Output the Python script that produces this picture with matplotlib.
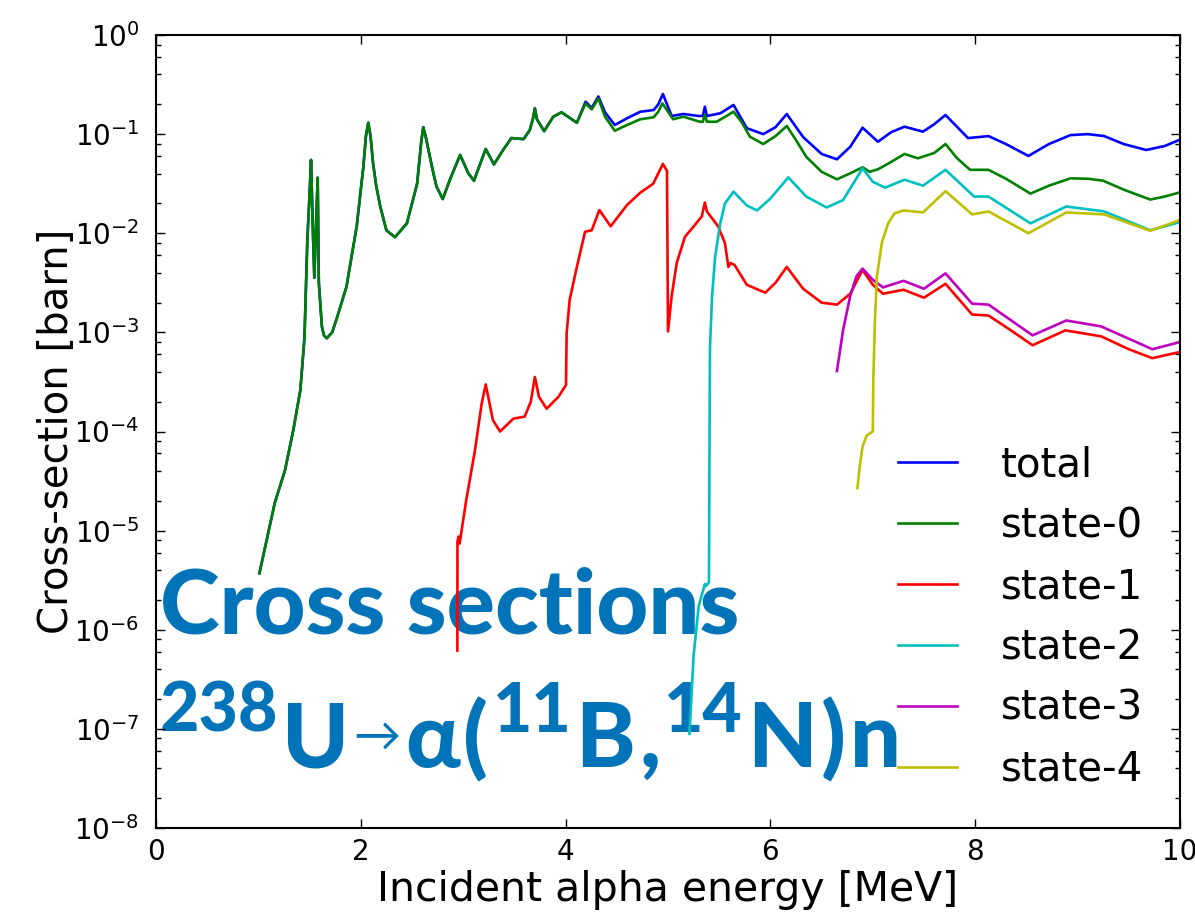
import numpy as np
import matplotlib
matplotlib.use('Agg')
import matplotlib.pyplot as plt
from matplotlib.transforms import IdentityTransform
from matplotlib.ticker import LogLocator, MultipleLocator, NullLocator

plt.rcParams['axes.unicode_minus'] = False
plt.rcParams['font.family'] = ['DejaVu Sans']

# energies in MeV, cross-sections as log10(barn)
s0_E = [1.01, 1.16, 1.26, 1.34, 1.41, 1.45, 1.478, 1.50, 1.514, 1.53, 1.546, 1.56,
        1.579, 1.59, 1.62, 1.64, 1.667, 1.72, 1.765, 1.86, 1.96, 2.025, 2.05, 2.073,
        2.095, 2.12, 2.15, 2.19, 2.25, 2.334, 2.45, 2.55, 2.59, 2.61, 2.635, 2.675,
        2.71, 2.74, 2.80, 2.87, 2.97, 3.05, 3.105, 3.18, 3.22, 3.30, 3.39, 3.47, 3.59,
        3.65, 3.68, 3.70, 3.72, 3.79, 3.88, 3.96, 4.06, 4.11,
        4.195, 4.255, 4.32, 4.385, 4.48, 4.60, 4.73, 4.86, 4.905, 4.945, 5.05, 5.15,
        5.31, 5.34, 5.36, 5.38, 5.475, 5.55, 5.64, 5.72, 5.80, 5.93, 6.05, 6.16, 6.25,
        6.35, 6.50, 6.65, 6.78, 6.90, 6.97, 7.05, 7.18, 7.31, 7.44, 7.60, 7.71, 7.82,
        7.95, 8.13, 8.30, 8.54, 8.72, 8.93, 9.10, 9.25, 9.45, 9.71, 9.85, 9.99]
s0_log = [-5.43, -4.72, -4.39, -3.99, -3.58, -3.05, -2.07, -1.60, -1.26, -1.90, -2.45, -2.00,
          -1.44, -2.50, -2.94, -3.03, -3.06, -3.00, -2.86, -2.54, -1.93, -1.33, -1.02, -0.885,
          -1.02, -1.295, -1.52, -1.73, -1.97, -2.04, -1.90, -1.50, -1.08, -0.93, -1.03, -1.23,
          -1.40, -1.53, -1.655, -1.46, -1.21, -1.395, -1.47, -1.26, -1.15, -1.305, -1.16, -1.04, -1.05,
          -0.96, -0.85, -0.74, -0.85, -0.97, -0.824, -0.78, -0.85, -0.885,
          -0.69, -0.75, -0.64, -0.824, -0.966, -0.908, -0.85, -0.83, -0.774, -0.69, -0.85, -0.824,
          -0.875, -0.875, -0.807, -0.875, -0.875, -0.83, -0.774, -0.88, -1.026, -1.10, -1.02, -0.918, -1.06,
          -1.228, -1.38, -1.456, -1.395, -1.335, -1.38, -1.355, -1.28, -1.20, -1.244, -1.19, -1.10, -1.24,
          -1.36, -1.36, -1.45, -1.60, -1.52, -1.446, -1.45, -1.47, -1.56, -1.66, -1.63, -1.59]

# total follows state-0 up to ~4.1 MeV, then these points
tot_E = [4.195, 4.255, 4.32, 4.385, 4.48, 4.60, 4.73, 4.86, 4.905, 4.95, 5.036, 5.15,
         5.30, 5.34, 5.36, 5.38, 5.51, 5.64, 5.77, 5.93, 6.05, 6.16, 6.32, 6.50, 6.65,
         6.78, 6.90, 7.05, 7.18, 7.31, 7.49, 7.60, 7.71, 7.93, 8.13, 8.30, 8.52, 8.72,
         8.93, 9.10, 9.26, 9.45, 9.67, 9.85, 9.99]
tot_log = [-0.673, -0.735, -0.62, -0.78, -0.908, -0.84, -0.774, -0.757, -0.70, -0.595, -0.817, -0.797,
           -0.817, -0.817, -0.723, -0.817, -0.79, -0.706, -0.94, -1.0, -0.93, -0.797, -1.03, -1.20, -1.254,
           -1.127, -0.935, -1.077, -0.98, -0.925, -0.975, -0.90, -0.807, -1.04, -1.02, -1.10, -1.22, -1.10,
           -1.01, -1.00, -1.02, -1.10, -1.16, -1.12, -1.06]

s1_E = [2.943, 2.944, 2.955, 2.965, 3.03, 3.115, 3.18, 3.22, 3.29, 3.36, 3.49, 3.60,
        3.66, 3.70, 3.74, 3.815, 3.93, 4.004, 4.01, 4.04, 4.11, 4.19, 4.255, 4.33,
        4.44, 4.60, 4.73, 4.856, 4.95, 4.99, 5.00, 5.035, 5.085, 5.166, 5.26, 5.33,
        5.36, 5.38, 5.49, 5.556, 5.59, 5.61, 5.65, 5.77, 5.95, 6.05, 6.16, 6.32, 6.50,
        6.65, 6.78, 6.90, 7.00, 7.10, 7.30, 7.50, 7.71, 7.97, 8.13, 8.35, 8.56, 8.88,
        9.23, 9.50, 9.73, 9.99]
s1_log = [-6.21, -5.11, -5.06, -5.13, -4.69, -4.19, -3.72, -3.525, -3.885, -4.0, -3.87, -3.85,
          -3.70, -3.45, -3.65, -3.77, -3.65, -3.53, -3.01, -2.67, -2.34, -1.985, -1.97, -1.766,
          -1.93, -1.715, -1.59, -1.50, -1.30, -1.37, -2.99, -2.64, -2.30, -2.035, -1.92, -1.83,
          -1.69, -1.78, -1.93, -2.10, -2.34, -2.30, -2.32, -2.52, -2.60, -2.50, -2.34, -2.56, -2.70,
          -2.72, -2.61, -2.37, -2.52, -2.61, -2.57, -2.65, -2.51, -2.82, -2.83, -2.98, -3.13, -2.98,
          -3.04, -3.17, -3.26, -3.20]

s2_E = [5.21, 5.25, 5.30, 5.36, 5.37, 5.40, 5.405, 5.41, 5.43, 5.46, 5.51, 5.556, 5.64,
        5.77, 5.87, 6.00, 6.175, 6.35, 6.55, 6.71, 6.90, 7.00, 7.12, 7.31, 7.49, 7.71,
        7.99, 8.13, 8.54, 8.89, 9.26, 9.71, 9.99]
s2_log = [-7.05, -6.26, -5.76, -5.54, -5.56, -5.52, -4.25, -3.15, -2.64, -2.24, -1.90, -1.70, -1.58,
          -1.72, -1.77, -1.65, -1.436, -1.63, -1.74, -1.665, -1.345, -1.48, -1.54, -1.46, -1.52, -1.36,
          -1.63, -1.63, -1.90, -1.73, -1.78, -1.97, -1.89]

s3_E = [6.65, 6.71, 6.78, 6.84, 6.90, 7.00, 7.10, 7.30, 7.50, 7.71, 7.97, 8.13, 8.56,
        8.89, 9.23, 9.73, 9.99]
s3_log = [-3.39, -2.976, -2.63, -2.435, -2.357, -2.47, -2.546, -2.48, -2.56, -2.405, -2.71, -2.72,
          -3.03, -2.88, -2.94, -3.17, -3.10]

s4_E = [6.85, 6.875, 6.90, 6.94, 7.00, 7.005, 7.02, 7.04, 7.09, 7.15, 7.21, 7.30, 7.49,
        7.71, 7.97, 8.13, 8.52, 8.89, 9.26, 9.71, 9.99]
s4_log = [-4.57, -4.33, -4.15, -4.04, -4.0, -3.48, -2.90, -2.435, -2.087, -1.90, -1.80, -1.77, -1.79,
          -1.575, -1.81, -1.78, -2.0, -1.79, -1.81, -1.975, -1.87]

labels = ['total', 'state-0', 'state-1', 'state-2', 'state-3', 'state-4']
colors = ['b', 'g', 'r', 'c', 'm', 'y']

n_low = s0_E.index(4.11) + 1
series = [
    (s0_E[:n_low] + tot_E, s0_log[:n_low] + tot_log),
    (s0_E, s0_log),
    (s1_E, s1_log),
    (s2_E, s2_log),
    (s3_E, s3_log),
    (s4_E, s4_log),
]

W, H = 1195, 918
fig = plt.figure(figsize=(W / 100, H / 100), dpi=100)
ax = fig.add_axes([156 / W, 1 - 828 / H, (1180 - 156) / W, (828 - 35) / H])

for (e, lg), lab, c in zip(series, labels, colors):
    ax.plot(e, 10 ** np.array(lg), color=c, lw=1.9, label=lab, zorder=2)

ax.set_yscale('log')
ax.set_xlim(0, 10)
ax.set_ylim(1e-8, 1)
ax.xaxis.set_major_locator(MultipleLocator(2))
ax.xaxis.set_minor_locator(NullLocator())
ax.yaxis.set_major_locator(LogLocator(base=10, numticks=20))
ax.yaxis.set_minor_locator(LogLocator(base=10, subs=(2, 4, 6, 8), numticks=20))
ax.tick_params(which='both', direction='in', top=True, right=True, labelsize=20)
ax.tick_params(axis='x', pad=7)
ax.tick_params(axis='y', pad=12)
ax.tick_params(which='major', length=6.5, width=1)
ax.tick_params(which='minor', length=3.5, width=1)
for sp in ax.spines.values():
    sp.set_linewidth(1.5)

ax.set_xlabel('Incident alpha energy [MeV]', fontsize=29.5, labelpad=3)
ax.set_ylabel('Cross-section [barn]', fontsize=29, labelpad=-2)

ax.legend(loc='center left', bbox_to_anchor=(0.7246, 0.2654), frameon=False,
          borderpad=0, borderaxespad=0, handlelength=1.46, handletextpad=1.1,
          labelspacing=0.52, fontsize=29)

# overlay title, drawn under the curves
blue = '#0073B9'
fam = ['Lato', 'DejaVu Sans']
renderer = fig.canvas.get_renderer()


def draw_runs(x, y, runs, gap=0):
    for s, size, dy, weight in runs:
        t = ax.text(x, y + dy, s, transform=IdentityTransform(), fontsize=size,
                    family=fam, weight=weight, color=blue, zorder=1,
                    ha='left', va='baseline')
        x += t.get_window_extent(renderer).width + gap


big, sup, rise = 65, 49, 35
draw_runs(160, H - 634, [('Cross sections', big, 0, 'black')])
draw_runs(160, H - 767, [
    ('238', sup, rise, 'black'), ('U', big, 0, 'black'), ('\u2192', 34, 16, 'normal'),
    ('\u03b1', big, 0, 'black'), ('(', big, 0, 'black'), ('11', sup, rise, 'black'),
    ('B', big, 0, 'black'), (',', big, 0, 'black'), ('14', sup, rise, 'black'),
    ('N', big, 0, 'black'), (')', big, 0, 'black'), ('n', big, 0, 'black'),
], gap=4)

fig.savefig('out.png', dpi=100)
